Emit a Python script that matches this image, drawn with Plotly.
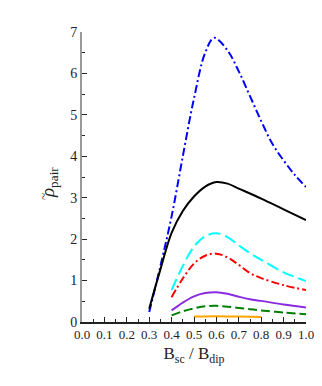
import plotly.graph_objects as go

x_blue = [0.30, 0.35, 0.40, 0.45, 0.50, 0.55, 0.59, 0.65, 0.70, 0.75, 0.80, 0.85, 0.90, 0.95, 1.00]
y_blue = [0.24, 1.35, 2.55, 4.00, 5.40, 6.50, 6.86, 6.55, 6.05, 5.45, 4.85, 4.30, 3.90, 3.55, 3.26]

x_black = [0.30, 0.35, 0.40, 0.45, 0.50, 0.55, 0.60, 0.65, 0.70, 0.80, 0.90, 1.00]
y_black = [0.32, 1.27, 2.15, 2.68, 3.03, 3.27, 3.38, 3.34, 3.22, 2.98, 2.72, 2.46]

x_mid = [0.40, 0.45, 0.50, 0.55, 0.60, 0.65, 0.70, 0.75, 0.80, 0.90, 1.00]
y_cyan = [0.77, 1.35, 1.82, 2.07, 2.14, 2.05, 1.85, 1.66, 1.50, 1.20, 0.99]
y_red = [0.60, 1.05, 1.41, 1.60, 1.65, 1.56, 1.38, 1.18, 1.06, 0.89, 0.77]
y_purple = [0.28, 0.47, 0.62, 0.70, 0.72, 0.68, 0.61, 0.55, 0.51, 0.42, 0.35]
y_green = [0.16, 0.26, 0.33, 0.38, 0.39, 0.37, 0.34, 0.31, 0.28, 0.23, 0.19]

x_orange = [0.50, 0.60, 0.70, 0.80]
y_orange = [0.13, 0.14, 0.13, 0.12]

x_ticks = [0.0, 0.1, 0.2, 0.3, 0.4, 0.5, 0.6, 0.7, 0.8, 0.9, 1.0]
x_ticklabels = ["0.0", "0.1", "0.2", "0.3", "0.4", "0.5", "0.6", "0.7", "0.8", "0.9", "1.0"]
y_ticks = [0, 1, 2, 3, 4, 5, 6, 7]

series = [
    (x_blue, y_blue, "#0000ff", "8px,3px,2px,3px"),
    (x_black, y_black, "#000000", "solid"),
    (x_mid, y_cyan, "#00ffff", "12px,5px"),
    (x_mid, y_red, "#ff0000", "8px,3px,2px,3px"),
    (x_mid, y_purple, "#8a2be2", "solid"),
    (x_mid, y_green, "#008000", "9px,4px"),
    (x_orange, y_orange, "#ffa500", "solid"),
]

fig = go.Figure()
for xs, ys, col, dash in series:
    fig.add_trace(go.Scatter(x=xs, y=ys, mode="lines",
                             line=dict(color=col, width=2, dash=dash, shape="spline", smoothing=1.0),
                             showlegend=False, hoverinfo="skip"))

SERIF = "Liberation Serif"
# page body has an 8px margin: plot area at screen x 82..306, y 32..322
L, T, PW, PH = 74, 24, 224, 290
W, H = 314, 378


def px(sx):
    return (sx - 8 - L) / PW


def py(sy):
    return 1 - (sy - 8 - T) / PH


fig.update_layout(
    width=W, height=H,
    margin=dict(l=L, r=W - L - PW, t=T, b=H - T - PH, autoexpand=False),
    paper_bgcolor="white", plot_bgcolor="white",
    font=dict(family=SERIF, color="#222", size=13),
    xaxis=dict(range=[0, 1.0], tickvals=x_ticks, ticktext=x_ticklabels, automargin=False,
               showgrid=False, zeroline=False, showline=True, linecolor="#222", linewidth=1.5,
               ticks="inside", ticklen=5, tickcolor="#222", tickwidth=1,
               tickfont=dict(family=SERIF, size=13, color="#222"),
               minor=dict(dtick=0.05, tick0=0, ticks="inside", ticklen=3, tickcolor="#222"),
               title=dict(text="B<sub>sc</sub> / B<sub>dip</sub>",
                          font=dict(family=SERIF, size=17, color="#222"), standoff=6)),
    yaxis=dict(range=[0, 7], tickvals=y_ticks, automargin=False,
               showgrid=False, zeroline=False, showline=True, linecolor="#999", linewidth=2,
               ticks="inside", ticklen=5, tickcolor="#222", tickwidth=1,
               tickfont=dict(family=SERIF, size=14, color="#222"),
               minor=dict(dtick=0.5, tick0=0, ticks="inside", ticklen=3, tickcolor="#222")),
    annotations=[
        dict(text="<i>ρ</i><sub>pair</sub>", textangle=-90, showarrow=False,
             xref="paper", yref="paper", x=px(49), y=py(183), xanchor="center", yanchor="middle",
             font=dict(family=SERIF, size=19, color="#222")),
        dict(text="~", textangle=-90, showarrow=False,
             xref="paper", yref="paper", x=px(43), y=py(197), xanchor="center", yanchor="middle",
             font=dict(family=SERIF, size=13, color="#222")),
    ],
)

fig.write_html("out.html")
